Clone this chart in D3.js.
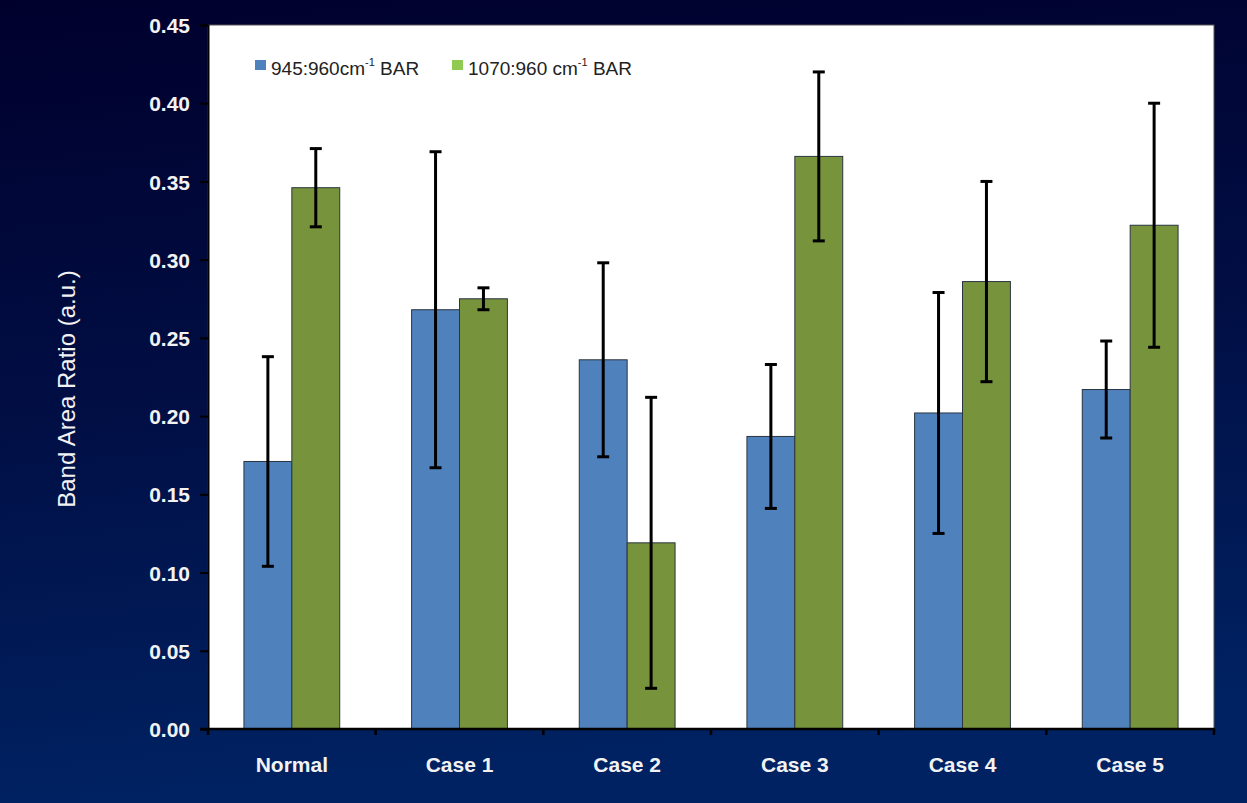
<!DOCTYPE html>
<html>
<head>
<meta charset="utf-8">
<script src="https://cdn.jsdelivr.net/npm/d3@7/dist/d3.min.js"></script>
<style>
  html, body { margin: 0; padding: 0; background: #000030; }
  svg { display: block; }
</style>
</head>
<body>
<svg id="chart" width="1247" height="803"></svg>
<script>
// Band area ratios per sample group, with error bars (±)
const categories = ["Normal", "Case 1", "Case 2", "Case 3", "Case 4", "Case 5"];
const seriesNames = ["945:960cm", "1070:960 cm"];
const ratio945 = [0.171, 0.268, 0.236, 0.187, 0.202, 0.217];
const err945   = [0.067, 0.101, 0.062, 0.046, 0.077, 0.031];
const ratio1070 = [0.346, 0.275, 0.119, 0.366, 0.286, 0.322];
const err1070   = [0.025, 0.007, 0.093, 0.054, 0.064, 0.078];
const yTicks = [0, 0.05, 0.10, 0.15, 0.20, 0.25, 0.30, 0.35, 0.40, 0.45];

const W = 1247, H = 803;
const margin = { left: 208, right: 33, top: 25, bottom: 74 };
const FONT = "Liberation Sans, Arial, sans-serif";
const svg = d3.select("#chart");

// Navy backdrop, darker at the top
const defs = svg.append("defs");
const grad = defs.append("linearGradient").attr("id", "bg").attr("x1", 0).attr("y1", 0).attr("x2", 0.15).attr("y2", 1);
grad.append("stop").attr("offset", "0%").attr("stop-color", "#00002c");
grad.append("stop").attr("offset", "50%").attr("stop-color", "#010e44");
grad.append("stop").attr("offset", "100%").attr("stop-color", "#002262");
svg.append("rect").attr("width", W).attr("height", H).attr("fill", "url(#bg)");

const x0 = d3.scaleBand().domain(categories).range([margin.left, W - margin.right]).paddingInner(0).paddingOuter(0);
const x1 = d3.scaleBand().domain([0, 1]).range([0, x0.bandwidth()]).paddingOuter(0.75).paddingInner(0);
const y = d3.scaleLinear().domain([0, 0.45]).range([H - margin.bottom, margin.top]);

// Plot area
svg.append("rect")
  .attr("x", margin.left).attr("y", margin.top)
  .attr("width", W - margin.left - margin.right)
  .attr("height", H - margin.top - margin.bottom)
  .attr("fill", "#ffffff").attr("stroke", "#555").attr("stroke-width", 1);

const rows = categories.map((c, i) => ({
  cat: c,
  vals: [
    { s: 0, v: ratio945[i], e: err945[i] },
    { s: 1, v: ratio1070[i], e: err1070[i] }
  ]
}));
const barFill = ["#4f81bd", "#77933c"];
const legendFill = ["#4f81bd", "#8fcb50"];

const groups = svg.append("g").selectAll("g").data(rows).join("g")
  .attr("transform", d => `translate(${x0(d.cat)},0)`);

groups.selectAll("rect").data(d => d.vals).join("rect")
  .attr("x", d => x1(d.s))
  .attr("y", d => y(d.v))
  .attr("width", x1.bandwidth())
  .attr("height", d => y(0) - y(d.v))
  .attr("fill", d => barFill[d.s])
  .attr("stroke", "#2a3540").attr("stroke-width", 1);

// Error bars
const eb = groups.selectAll("g.err").data(d => d.vals).join("g").attr("class", "err");
const cx = d => x1(d.s) + x1.bandwidth() / 2;
eb.append("line")
  .attr("x1", cx).attr("x2", cx)
  .attr("y1", d => y(d.v + d.e)).attr("y2", d => y(d.v - d.e))
  .attr("stroke", "#000").attr("stroke-width", 3);
eb.selectAll("line.cap").data(d => [{ d, k: 1 }, { d, k: -1 }]).join("line").attr("class", "cap")
  .attr("x1", o => cx(o.d) - 6).attr("x2", o => cx(o.d) + 6)
  .attr("y1", o => y(o.d.v + o.k * o.d.e)).attr("y2", o => y(o.d.v + o.k * o.d.e))
  .attr("stroke", "#000").attr("stroke-width", 3);

// Y axis
const yAxis = svg.append("g").attr("transform", `translate(${margin.left},0)`)
  .call(d3.axisLeft(y).tickValues(yTicks).tickFormat(d3.format(".2f")).tickSize(8).tickPadding(10));
yAxis.select(".domain").attr("stroke", "#000").attr("stroke-width", 2);
yAxis.selectAll(".tick line").attr("stroke", "#000").attr("stroke-width", 2);
yAxis.selectAll(".tick text")
  .attr("fill", "#f2f2f2").attr("font-family", FONT)
  .attr("font-size", 21).attr("font-weight", "bold").attr("dy", "0.36em");

// X axis: ticks at group boundaries
const xAxisY = y(0);
svg.append("line")
  .attr("x1", margin.left - 8).attr("x2", W - margin.right + 1)
  .attr("y1", xAxisY).attr("y2", xAxisY)
  .attr("stroke", "#000").attr("stroke-width", 2.5);
const bounds = categories.map(c => x0(c)).concat([x0(categories[categories.length - 1]) + x0.bandwidth()]);
svg.append("g").selectAll("line").data(bounds).join("line")
  .attr("x1", d => d).attr("x2", d => d)
  .attr("y1", xAxisY).attr("y2", xAxisY + 6)
  .attr("stroke", "#000").attr("stroke-width", 2.5);
svg.append("g").selectAll("text").data(categories).join("text")
  .attr("x", d => x0(d) + x0.bandwidth() / 2)
  .attr("y", xAxisY + 43)
  .attr("text-anchor", "middle")
  .attr("fill", "#f2f2f2").attr("font-family", FONT)
  .attr("font-size", 21).attr("font-weight", "bold")
  .text(d => d);

// Y axis title
svg.append("text")
  .attr("transform", `translate(75,${(margin.top + xAxisY) / 2 + 12}) rotate(-90)`)
  .attr("text-anchor", "middle")
  .attr("fill", "#f2f2f2").attr("font-family", FONT)
  .attr("font-size", 24)
  .text("Band Area Ratio (a.u.)");

// Legend
const legendX = [255, 452];
const legend = svg.append("g").selectAll("g").data(seriesNames).join("g")
  .attr("transform", (d, i) => `translate(${legendX[i]},75)`);
legend.append("rect").attr("x", 0).attr("y", -15).attr("width", 11).attr("height", 10)
  .attr("fill", (d, i) => legendFill[i]);
const lt = legend.append("text").attr("x", 16).attr("y", 0)
  .attr("fill", "#222").attr("font-family", FONT).attr("font-size", 19);
lt.append("tspan").text(d => d);
lt.append("tspan").attr("font-size", 11).attr("dy", -9).text("-1");
lt.append("tspan").attr("dy", 9).text(" BAR");
</script>
</body>
</html>
